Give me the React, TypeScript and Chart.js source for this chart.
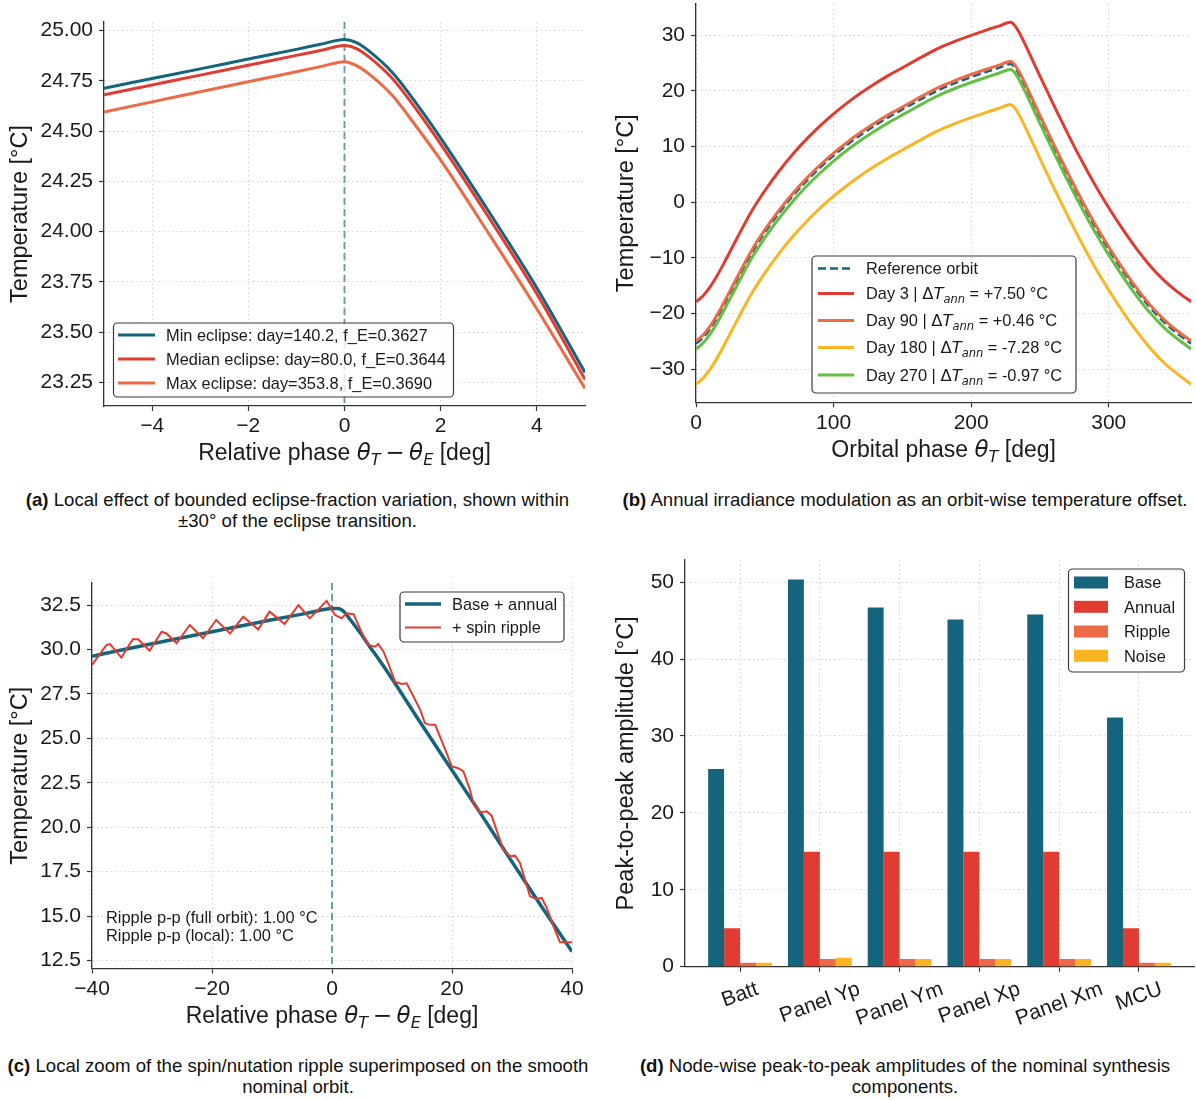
import React, { useEffect, useRef } from 'react';
import { Chart, registerables } from 'chart.js';

Chart.register(...registerables);

const FONT = '"Liberation Sans", Arial, Helvetica, sans-serif';
const MATH = '"DejaVu Sans", "Liberation Sans", sans-serif';
const TICK = 21;
const TITLE = 23;
const LEG = 16.4;
const CAP = 18.6;

const TEAL = '#14657b';
const RED = '#e03c31';
const ORANGE = '#ec6a45';
const YELLOW = '#fbb523';
const GREEN = '#66bf45';
const AXIS_C = '#333333';
const GRID_C = '#d4d4d4';
const TEXT_C = '#1a1a1a';

// ---------------- (a) local eclipse-fraction effect ----------------
const aPhase = [-5, -4, -3, -2, -1, -0.5, 0, 0.25, 0.5, 1, 1.5, 2, 3, 4, 5];
const aMinEclipse = [24.712, 24.761, 24.809, 24.858, 24.906, 24.931, 24.955, 24.94, 24.9, 24.79, 24.635, 24.465, 24.1, 23.72, 23.3];
const aMedianEclipse = [24.68, 24.729, 24.778, 24.827, 24.876, 24.9, 24.925, 24.91, 24.87, 24.76, 24.605, 24.435, 24.07, 23.69, 23.265];
const aMaxEclipse = [24.595, 24.645, 24.695, 24.745, 24.795, 24.82, 24.845, 24.825, 24.785, 24.675, 24.52, 24.355, 23.99, 23.615, 23.22];
const aLabels = [
  'Min eclipse: day=140.2, f_E=0.3627',
  'Median eclipse: day=80.0, f_E=0.3644',
  'Max eclipse: day=353.8, f_E=0.3690',
];
const aXTicks = [-4, -2, 0, 2, 4];
const aYTicks = [23.25, 23.5, 23.75, 24.0, 24.25, 24.5, 24.75, 25.0];

// ---------------- (b) annual modulation ----------------
const bPhase = [0, 5, 10, 15, 20, 30, 40, 50, 60, 70, 80, 90, 100, 110, 120, 130, 140, 150, 160, 170, 180, 190, 200, 210, 220, 228.8, 232, 235, 240, 250, 260, 270, 280, 290, 300, 310, 320, 330, 340, 350, 360];
const bReference = [-25.4, -24.35, -22.8, -20.85, -18.6, -13.9, -9.3, -5.45, -2.04, 1.01, 3.72, 6.16, 8.35, 10.32, 12.12, 13.75, 15.25, 16.63, 18.0, 19.35, 20.55, 21.55, 22.45, 23.3, 24.1, 24.8, 24.1, 22.9, 20.4, 15.1, 9.9, 4.9, 0.1, -4.4, -8.5, -12.3, -15.8, -18.9, -21.5, -23.6, -25.4];
const bDay3 = [-17.9, -16.85, -15.3, -13.35, -11.1, -6.4, -1.8, 2.05, 5.46, 8.51, 11.22, 13.66, 15.85, 17.82, 19.62, 21.25, 22.75, 24.13, 25.5, 26.85, 28.05, 29.05, 29.95, 30.8, 31.6, 32.3, 31.6, 30.4, 27.9, 22.6, 17.4, 12.4, 7.6, 3.1, -1.0, -4.8, -8.3, -11.4, -14.0, -16.1, -17.9];
const bDay90 = [-24.94, -23.89, -22.34, -20.39, -18.14, -13.44, -8.84, -4.99, -1.58, 1.47, 4.18, 6.62, 8.81, 10.78, 12.58, 14.21, 15.71, 17.09, 18.46, 19.81, 21.01, 22.01, 22.91, 23.76, 24.56, 25.26, 24.56, 23.36, 20.86, 15.56, 10.36, 5.36, 0.56, -3.94, -8.04, -11.84, -15.34, -18.44, -21.04, -23.14, -24.94];
const bDay180 = [-32.68, -31.63, -30.08, -28.13, -25.88, -21.18, -16.58, -12.73, -9.32, -6.27, -3.56, -1.12, 1.07, 3.04, 4.84, 6.47, 7.97, 9.35, 10.72, 12.07, 13.27, 14.27, 15.17, 16.02, 16.82, 17.52, 16.82, 15.62, 13.12, 7.82, 2.62, -2.38, -7.18, -11.68, -15.78, -19.58, -23.08, -26.18, -28.78, -30.88, -32.68];
const bDay270 = [-26.37, -25.32, -23.77, -21.82, -19.57, -14.87, -10.27, -6.42, -3.01, 0.04, 2.75, 5.19, 7.38, 9.35, 11.15, 12.78, 14.28, 15.66, 17.03, 18.38, 19.58, 20.58, 21.48, 22.33, 23.13, 23.83, 23.13, 21.93, 19.43, 14.13, 8.93, 3.93, -0.87, -5.37, -9.47, -13.27, -16.77, -19.87, -22.47, -24.57, -26.37];
const bDays = ['3', '90', '180', '270'];
const bOffsetText = ['+7.50', '+0.46', '-7.28', '-0.97'];
const bXTicks = [0, 100, 200, 300];
const bYTicks = [-30, -20, -10, 0, 10, 20, 30];

// ---------------- (c) spin ripple local zoom ----------------
const cBasePhase = [-40, -30, -20, -10, -4, 0, 1, 2, 3, 4, 5, 6, 8, 10, 15, 20, 25, 30, 35, 40];
const cBase = [29.62, 30.32, 31.0, 31.67, 32.05, 32.3, 32.3, 32.12, 31.7, 31.25, 30.8, 30.3, 29.35, 28.35, 25.75, 23.2, 20.65, 18.05, 15.5, 13.0];
const cRipplePhase = [-40, -39.0, -37.6, -37.0, -35.1, -33.2, -32.3, -30.4, -28.4, -27.6, -25.9, -23.7, -21.5, -19.3, -17.0, -14.8, -12.3, -10.4, -7.9, -5.6, -3.7, -0.9, 0.5, 1.6, 2.4, 3.6, 4.9, 6.05, 7.2, 7.7, 8.6, 9.7, 10.5, 11.6, 12.45, 13.3, 14.7, 15.5, 16.3, 17.2, 18.0, 19.1, 19.95, 21.05, 21.9, 23.0, 23.55, 24.67, 25.8, 26.6, 28.55, 29.67, 30.5, 31.33, 33.0, 34.1, 34.95, 35.8, 36.9, 38.0, 40.0];
const cRipple = [29.13, 29.6, 30.25, 30.3, 29.54, 30.57, 30.57, 29.93, 31.0, 30.9, 30.35, 31.38, 30.63, 31.66, 30.9, 31.84, 31.13, 32.13, 31.43, 32.5, 31.75, 32.74, 31.94, 31.75, 32.03, 31.99, 31.0, 30.25, 30.16, 30.31, 29.88, 28.94, 28.19, 28.06, 28.1, 27.54, 26.6, 25.85, 25.76, 25.76, 25.1, 24.17, 23.42, 23.32, 23.14, 22.1, 21.36, 20.83, 20.89, 20.65, 18.74, 18.36, 18.4, 17.99, 16.11, 15.96, 16.02, 15.46, 14.43, 13.53, 13.53];
const cNotes = ['Ripple p-p (full orbit): 1.00 °C', 'Ripple p-p (local): 1.00 °C'];
const cXTicks = [-40, -20, 0, 20, 40];
const cYTicks = [12.5, 15.0, 17.5, 20.0, 22.5, 25.0, 27.5, 30.0, 32.5];

// ---------------- (d) node-wise amplitudes ----------------
const dNodes = ['Batt', 'Panel Yp', 'Panel Ym', 'Panel Xp', 'Panel Xm', 'MCU'];
const dBase = [25.7, 50.35, 46.7, 45.15, 45.8, 32.4];
const dAnnual = [5.0, 14.95, 14.95, 14.95, 14.95, 5.0];
const dRipple = [0.5, 1.0, 1.0, 1.0, 1.0, 0.5];
const dNoise = [0.5, 1.15, 1.0, 1.0, 1.0, 0.5];
const dYTicks = [0, 10, 20, 30, 40, 50];

// ---------------- helpers ----------------
type Seg = { t: string; it?: boolean; sub?: boolean; m?: boolean };
type Area = { l: number; t: number; r: number; b: number };

const pts = (xs: number[], ys: number[]) => xs.map((x, i) => ({ x, y: ys[i] }));
const fmt = (d: number) => (v: number) => (v < 0 ? '\u2212' : '') + Math.abs(v).toFixed(d);

function fontOf(size: number, s: Seg) {
  const sz = s.sub ? size * 0.7 : size;
  return `${s.it ? 'italic ' : ''}${sz}px ${s.m ? MATH : FONT}`;
}
function richWidth(ctx: CanvasRenderingContext2D, segs: Seg[], size: number) {
  let w = 0;
  for (const s of segs) {
    ctx.font = fontOf(size, s);
    w += ctx.measureText(s.t).width;
  }
  return w;
}
function drawRich(ctx: CanvasRenderingContext2D, segs: Seg[], x: number, y: number, size: number, align: 'left' | 'center' = 'left') {
  const w = richWidth(ctx, segs, size);
  let cx = align === 'center' ? x - w / 2 : x;
  ctx.save();
  ctx.fillStyle = TEXT_C;
  ctx.textAlign = 'left';
  ctx.textBaseline = 'alphabetic';
  for (const s of segs) {
    ctx.font = fontOf(size, s);
    ctx.fillText(s.t, cx, s.sub ? y + size * 0.22 : y);
    cx += ctx.measureText(s.t).width;
  }
  ctx.restore();
}

type LegItem = { color: string; width: number; dash?: number[]; patch?: boolean; label: Seg[] };
type LegSpec = { x: number; y: number; w: number; h: number; rows: number[]; sx0: number; sx1: number; tx: number; items: LegItem[] };

function drawLegend(ctx: CanvasRenderingContext2D, L: LegSpec) {
  ctx.save();
  ctx.beginPath();
  (ctx as any).roundRect(L.x, L.y, L.w, L.h, 4);
  ctx.fillStyle = 'rgba(255,255,255,0.8)';
  ctx.fill();
  ctx.lineWidth = 1.2;
  ctx.strokeStyle = '#3a3a3a';
  ctx.stroke();
  L.items.forEach((it, i) => {
    const y = L.rows[i];
    if (it.patch) {
      ctx.fillStyle = it.color;
      ctx.fillRect(L.sx0, y - 6, L.sx1 - L.sx0, 12);
    } else {
      ctx.beginPath();
      ctx.setLineDash(it.dash || []);
      ctx.strokeStyle = it.color;
      ctx.lineWidth = it.width;
      ctx.lineCap = 'butt';
      ctx.moveTo(L.sx0, y);
      ctx.lineTo(L.sx1, y);
      ctx.stroke();
      ctx.setLineDash([]);
    }
    drawRich(ctx, it.label, L.tx, y + LEG * 0.36, LEG);
  });
  ctx.restore();
}

type Decor = {
  vline?: number;
  xTitle?: { segs: Seg[]; y: number };
  yTitle: { segs: Seg[]; x: number };
  legend: LegSpec;
  notes?: { t: string; x: number; y: number }[];
  catLabels?: string[];
};

function decorPlugin(d: Decor) {
  return {
    id: 'decor',
    beforeDatasetsDraw(chart: any) {
      if (d.vline === undefined) return;
      const { ctx, chartArea: a, scales } = chart;
      const x = scales.x.getPixelForValue(d.vline);
      ctx.save();
      ctx.strokeStyle = 'rgba(20,101,123,0.6)';
      ctx.lineWidth = 2;
      ctx.setLineDash([7, 4]);
      ctx.beginPath();
      ctx.moveTo(x, a.top);
      ctx.lineTo(x, a.bottom);
      ctx.stroke();
      ctx.restore();
    },
    afterDraw(chart: any) {
      const { ctx, chartArea: a, scales } = chart;
      if (d.xTitle) drawRich(ctx, d.xTitle.segs, (a.left + a.right) / 2, d.xTitle.y, TITLE, 'center');
      ctx.save();
      ctx.translate(d.yTitle.x, (a.top + a.bottom) / 2);
      ctx.rotate(-Math.PI / 2);
      drawRich(ctx, d.yTitle.segs, 0, 0, TITLE + 0.5, 'center');
      ctx.restore();
      if (d.notes) {
        for (const n of d.notes) drawRich(ctx, [{ t: n.t }], n.x, n.y, LEG);
      }
      if (d.catLabels) {
        const ang = (20 * Math.PI) / 180;
        ctx.save();
        ctx.font = `${TICK}px ${FONT}`;
        ctx.fillStyle = TEXT_C;
        ctx.textAlign = 'center';
        ctx.textBaseline = 'middle';
        d.catLabels.forEach((name, i) => {
          const px = scales.x.getPixelForValue(i);
          const w = ctx.measureText(name).width;
          const h = w * Math.sin(ang) + TICK * 1.1 * Math.cos(ang);
          const cy = a.bottom + 11 + h / 2;
          ctx.save();
          ctx.translate(px, cy);
          ctx.rotate(-ang);
          ctx.fillText(name, 0, 0);
          ctx.restore();
        });
        ctx.restore();
      }
      drawLegend(ctx, d.legend);
    },
  };
}

function linScale(axis: 'x' | 'y', min: number, max: number, ticks: number[], f: (v: number) => string, fixed: number, extra: any = {}) {
  return {
    type: 'linear',
    min,
    max,
    offset: false,
    afterBuildTicks: (s: any) => {
      s.ticks = ticks.map((v) => ({ value: v }));
    },
    afterFit: (s: any) => {
      if (axis === 'x') s.height = fixed;
      else s.width = fixed;
      s.paddingLeft = 0;
      s.paddingRight = 0;
      s.paddingTop = 0;
      s.paddingBottom = 0;
    },
    grid: { offset: false, color: GRID_C, lineWidth: 1, drawTicks: true, tickLength: 5, tickColor: AXIS_C, tickWidth: 1.2 },
    border: { display: true, color: AXIS_C, width: 1.3, dash: [1.5, 3] },
    ticks: {
      display: true,
      color: TEXT_C,
      font: { family: FONT, size: TICK },
      padding: axis === 'x' ? 3 : 6,
      maxRotation: 0,
      minRotation: 0,
      autoSkip: false,
      callback: (v: any) => f(Number(v)),
    },
    ...extra,
  };
}

function common(area: Area, W: number) {
  return {
    responsive: false,
    maintainAspectRatio: false,
    animation: false,
    devicePixelRatio: 1,
    events: [],
    layout: { padding: { left: 0, top: area.t, right: W - area.r, bottom: 0 } },
    plugins: { legend: { display: false }, tooltip: { enabled: false }, title: { display: false } },
  };
}

function lineDs(xs: number[], ys: number[], color: string, width: number, order: number, extra: any = {}) {
  return {
    data: pts(xs, ys),
    borderColor: color,
    backgroundColor: color,
    borderWidth: width,
    pointRadius: 0,
    fill: false,
    cubicInterpolationMode: 'monotone',
    tension: 0.4,
    order,
    ...extra,
  };
}

const thetaSeg = (sub: string): Seg[] => [{ t: '\u03b8', it: true, m: true }, { t: sub, it: true, sub: true, m: true }];
const relPhase: Seg[] = [{ t: 'Relative phase ' }, ...thetaSeg('T'), { t: '\u2009\u2212\u2009', m: true }, ...thetaSeg('E'), { t: ' [deg]' }];
const tempTitle: Seg[] = [{ t: 'Temperature [°C]' }];

// ---------------- panel builders ----------------
function buildA(canvas: HTMLCanvasElement) {
  const W = 598, H = 480;
  const area: Area = { l: 104, t: 22, r: 585, b: 406 };
  const colors = [TEAL, RED, ORANGE];
  return new Chart(canvas, {
    type: 'line',
    data: {
      datasets: [
        lineDs(aPhase, aMinEclipse, TEAL, 3, 3),
        lineDs(aPhase, aMedianEclipse, RED, 3, 2),
        lineDs(aPhase, aMaxEclipse, ORANGE, 3, 1),
      ],
    },
    options: {
      ...common(area, W),
      scales: {
        x: linScale('x', -5, 5, aXTicks, fmt(0), H - area.b),
        y: linScale('y', 23.133, 25.042, aYTicks, fmt(2), area.l),
      },
    },
    plugins: [
      decorPlugin({
        vline: 0,
        xTitle: { segs: relPhase, y: 460 },
        yTitle: { segs: tempTitle, x: 27 },
        legend: {
          x: 113.5, y: 323, w: 340, h: 74, rows: [335, 359, 383], sx0: 118, sx1: 155, tx: 166,
          items: aLabels.map((l, i) => ({ color: colors[i], width: 3, label: [{ t: l }] })),
        },
      }),
    ],
  } as any);
}

function buildB(canvas: HTMLCanvasElement) {
  const W = 598, H = 480;
  const area: Area = { l: 98, t: 4.1, r: 593.3, b: 402.3 };
  const dayColors = [RED, ORANGE, YELLOW, GREEN];
  const dayLabel = (i: number): Seg[] => [
    { t: `Day ${bDays[i]} | ` },
    { t: '\u0394', m: true },
    { t: 'T', it: true, m: true },
    { t: 'ann', it: true, sub: true, m: true },
    { t: ` = ${bOffsetText[i]} °C` },
  ];
  return new Chart(canvas, {
    type: 'line',
    data: {
      datasets: [
        lineDs(bPhase, bReference, TEAL, 2.5, 5, { borderDash: [8, 4] }),
        lineDs(bPhase, bDay3, RED, 3, 4),
        lineDs(bPhase, bDay90, ORANGE, 3, 3),
        lineDs(bPhase, bDay180, YELLOW, 3, 2),
        lineDs(bPhase, bDay270, GREEN, 3, 1),
      ],
    },
    options: {
      ...common(area, W),
      scales: {
        x: linScale('x', 0, 360, bXTicks, fmt(0), H - area.b),
        y: linScale('y', -35.93, 35.55, bYTicks, fmt(0), area.l),
      },
    },
    plugins: [
      decorPlugin({
        xTitle: { segs: [{ t: 'Orbital phase ' }, ...thetaSeg('T'), { t: ' [deg]' }], y: 457 },
        yTitle: { segs: tempTitle, x: 35 },
        legend: {
          x: 214, y: 256, w: 264, h: 137, rows: [268.5, 293.5, 320.5, 347.5, 375], sx0: 220, sx1: 256, tx: 268,
          items: [
            { color: TEAL, width: 2.5, dash: [8, 4], label: [{ t: 'Reference orbit' }] },
            ...dayColors.map((c, i) => ({ color: c, width: 3, label: dayLabel(i) })),
          ],
        },
      }),
    ],
  } as any);
}

function buildC(canvas: HTMLCanvasElement) {
  const W = 598, H = 480;
  const area: Area = { l: 92, t: 23, r: 572, b: 408.5 };
  return new Chart(canvas, {
    type: 'line',
    data: {
      datasets: [
        lineDs(cBasePhase, cBase, TEAL, 3.5, 2),
        lineDs(cRipplePhase, cRipple, RED, 2, 1, { cubicInterpolationMode: 'default', tension: 0 }),
      ],
    },
    options: {
      ...common(area, W),
      scales: {
        x: linScale('x', -40, 40, cXTicks, fmt(0), H - area.b),
        y: linScale('y', 12.05, 33.74, cYTicks, fmt(1), area.l),
      },
    },
    plugins: [
      decorPlugin({
        vline: 0,
        xTitle: { segs: relPhase, y: 463 },
        yTitle: { segs: tempTitle, x: 27 },
        notes: [
          { t: cNotes[0], x: 106, y: 363 },
          { t: cNotes[1], x: 106, y: 381 },
        ],
        legend: {
          x: 400, y: 32, w: 164, h: 50, rows: [44, 67.5], sx0: 405, sx1: 441, tx: 452,
          items: [
            { color: TEAL, width: 3.5, label: [{ t: 'Base + annual' }] },
            { color: RED, width: 2, label: [{ t: '+ spin ripple' }] },
          ],
        },
      }),
    ],
  } as any);
}

function buildD(canvas: HTMLCanvasElement) {
  const W = 598, H = 500;
  const area: Area = { l: 87, t: 20, r: 596, b: 426.7 };
  const idx = dNodes.map((_, i) => i);
  const barDs = (vals: number[], color: string, label: string) => ({
    label,
    data: pts(idx, vals),
    backgroundColor: color,
    borderWidth: 0,
    barPercentage: 1.0,
    categoryPercentage: 0.8,
  });
  return new Chart(canvas, {
    type: 'bar',
    data: {
      datasets: [
        barDs(dBase, TEAL, 'Base'),
        barDs(dAnnual, RED, 'Annual'),
        barDs(dRipple, ORANGE, 'Ripple'),
        barDs(dNoise, YELLOW, 'Noise'),
      ],
    },
    options: {
      ...common(area, W),
      scales: {
        x: linScale('x', -0.69, 5.69, idx, () => '', H - area.b, {}),
        y: linScale('y', 0, 52.87, dYTicks, fmt(0), area.l),
      },
    },
    plugins: [
      decorPlugin({
        yTitle: { segs: [{ t: 'Peak-to-peak amplitude [°C]' }], x: 35 },
        catLabels: dNodes,
        legend: {
          x: 470.5, y: 29, w: 116, h: 103, rows: [42.5, 66.8, 91.5, 115.8], sx0: 476, sx1: 510, tx: 526,
          items: [
            { color: TEAL, width: 0, patch: true, label: [{ t: 'Base' }] },
            { color: RED, width: 0, patch: true, label: [{ t: 'Annual' }] },
            { color: ORANGE, width: 0, patch: true, label: [{ t: 'Ripple' }] },
            { color: YELLOW, width: 0, patch: true, label: [{ t: 'Noise' }] },
          ],
        },
      }),
    ],
  } as any);
}

function Panel({ left, top, width, height, build }: { left: number; top: number; width: number; height: number; build: (c: HTMLCanvasElement) => Chart }) {
  const ref = useRef<HTMLCanvasElement>(null);
  useEffect(() => {
    const chart = build(ref.current as HTMLCanvasElement);
    return () => chart.destroy();
  }, []);
  return <canvas ref={ref} width={width} height={height} style={{ position: 'absolute', left, top, width, height }} />;
}

function Caption({ cx, top, tag, lines }: { cx: number; top: number; tag: string; lines: string[] }) {
  return (
    <div
      style={{
        position: 'absolute',
        left: cx - 320,
        top,
        width: 640,
        textAlign: 'center',
        fontFamily: FONT,
        fontSize: CAP,
        lineHeight: '21px',
        color: '#111',
        whiteSpace: 'nowrap',
      }}
    >
      <b>{tag}</b> {lines[0]}
      {lines.slice(1).map((l, i) => (
        <React.Fragment key={i}>
          <br />
          {l}
        </React.Fragment>
      ))}
    </div>
  );
}

export default function App() {
  return (
    <div style={{ position: 'absolute', left: 0, top: 0, width: 1196, height: 1100, background: '#fff', overflow: 'hidden' }}>
      <Panel left={0} top={0} width={598} height={480} build={buildA} />
      <Panel left={598} top={0} width={598} height={480} build={buildB} />
      <Panel left={0} top={560} width={598} height={480} build={buildC} />
      <Panel left={598} top={540} width={598} height={500} build={buildD} />
      <Caption cx={297.5} top={489} tag="(a)" lines={['Local effect of bounded eclipse-fraction variation, shown within', '±30° of the eclipse transition.']} />
      <Caption cx={905} top={489} tag="(b)" lines={['Annual irradiance modulation as an orbit-wise temperature offset.']} />
      <Caption cx={298} top={1055} tag="(c)" lines={['Local zoom of the spin/nutation ripple superimposed on the smooth', 'nominal orbit.']} />
      <Caption cx={905} top={1055} tag="(d)" lines={['Node-wise peak-to-peak amplitudes of the nominal synthesis', 'components.']} />
    </div>
  );
}
